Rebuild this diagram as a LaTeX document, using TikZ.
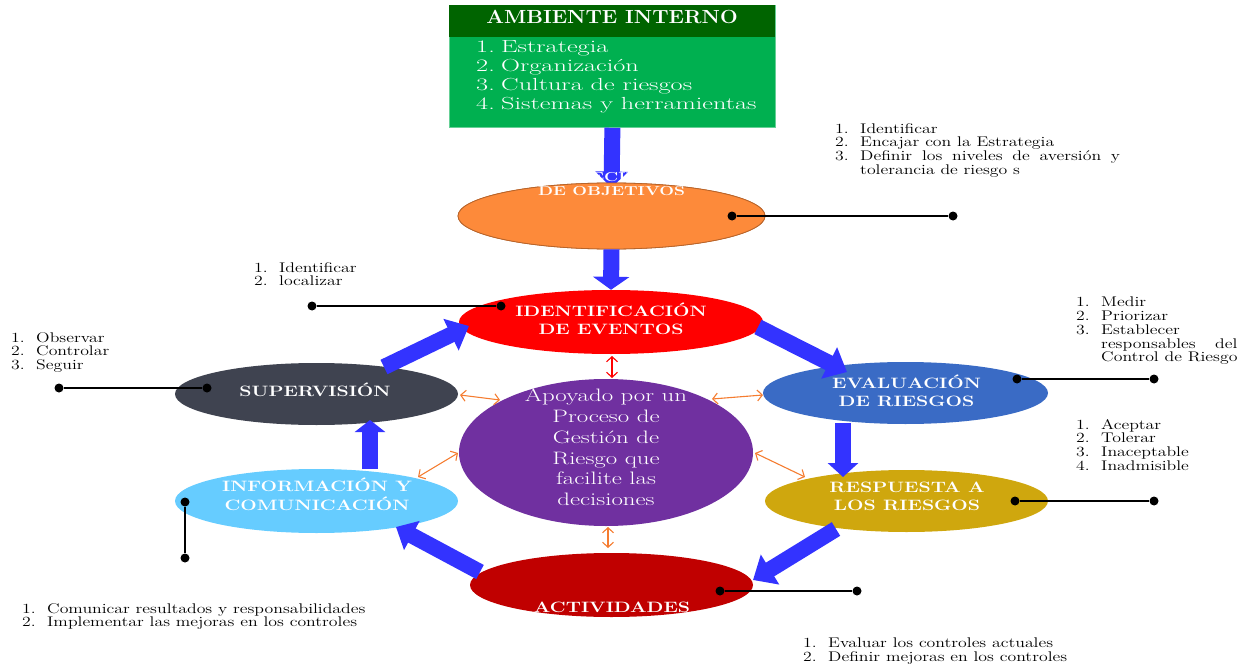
\documentclass[tikz,border=0pt]{standalone}
\usepackage{graphicx}
\usepackage{calc}
\usetikzlibrary{shapes.geometric,arrows.meta,calc}
\definecolor{hdrgreen}{HTML}{006400}
\definecolor{boxgreen}{HTML}{00B050}
\definecolor{arrowblue}{HTML}{3333FF}
\definecolor{objorange}{HTML}{FD8A3A}
\definecolor{objedge}{HTML}{B8642A}
\definecolor{identred}{HTML}{FF0000}
\definecolor{evalblue}{HTML}{3A6BC5}
\definecolor{respgold}{HTML}{CFA70E}
\definecolor{actred}{HTML}{C00000}
\definecolor{infoblue}{HTML}{66CCFF}
\definecolor{supgray}{HTML}{3F4350}
\definecolor{cpurple}{HTML}{7030A0}
\definecolor{linkorange}{HTML}{F57C30}
\newcommand{\lst}[1]{\scalebox{1.27}[1]{\fontsize{14}{13.5}\selectfont\begin{tabular}{@{}l@{}}#1\end{tabular}}}
\newcommand{\itm}[1]{\makebox[19.7pt][l]{#1}}
\newcommand{\etxt}[1]{\scalebox{1.3}[1]{\fontsize{15}{18}\selectfont\bfseries\begin{tabular}{@{}c@{}}#1\end{tabular}}}
\begin{document}
\begin{tikzpicture}[x=1pt,y=-1pt,
  ell/.style={ellipse, inner sep=0pt, draw=none},
  barrow/.style={draw=arrowblue, line width=16pt, -{Triangle[width=32pt,length=16pt]}},
  linkarrow/.style={draw=linkorange, line width=1.1pt, {Straight Barb[length=5pt,width=11pt]}-{Straight Barb[length=5pt,width=11pt]}},
  dot/.style={circle, fill=black, inner sep=0pt, minimum size=9pt},
  leader/.style={draw=black, line width=1.8pt},
  listtext/.style={anchor=north west, inner sep=0pt, text=black},
  wtext/.style={inner sep=0pt, text=white}]
\useasboundingbox (0,0) rectangle (1259,666);

% Ambiente interno box
\node[fill=boxgreen, draw=boxgreen!60!white, line width=0.8pt, minimum width=326pt, minimum height=122pt, inner sep=0pt, anchor=north west] (box) at (449,5) {};
\node[fill=hdrgreen, minimum width=326pt, minimum height=32pt, inner sep=0pt, anchor=north west] (hdr) at (449,5) {};
\node[wtext] (title) at (612,16.5) {\scalebox{1.1}[1]{\fontsize{19}{19}\selectfont\bfseries AMBIENTE INTERNO}};
\node[listtext, text=white] (boxlist) at (476,39.5) {\scalebox{1.5}[1]{\fontsize{17.5}{19}\selectfont\begin{tabular}{@{}l@{}}\makebox[16.7pt][l]{1.}Estrategia\\\makebox[16.7pt][l]{2.}Organización\\\makebox[16.7pt][l]{3.}Cultura de riesgos\\\makebox[16.7pt][l]{4.}Sistemas y herramientas\end{tabular}}};

% ellipses
\node[ell, fill=objorange, draw=objedge, line width=0.8pt, minimum width=307pt, minimum height=66pt] (obj) at (611.5,216) {};
\draw[barrow] (box.south) -- ($(obj.north)+(0,5)$);
\node[ell, fill=objorange, draw=objedge, line width=0.8pt, minimum width=307pt, minimum height=66pt] at (obj.center) {};
\node[ell, fill=identred, minimum width=304pt, minimum height=64pt] (ident) at (611,322) {};
\node[ell, fill=evalblue, minimum width=285pt, minimum height=62pt] (eval) at (905.5,393) {};
\node[ell, fill=respgold, minimum width=283pt, minimum height=62pt] (resp) at (906.5,501) {};
\node[ell, fill=actred, minimum width=283pt, minimum height=64pt] (act) at (611.5,585) {};
\node[ell, fill=infoblue, minimum width=283pt, minimum height=64pt] (info) at (316.5,501) {};
\node[ell, fill=supgray, minimum width=283pt, minimum height=62pt] (sup) at (316.5,394) {};
\node[ell, fill=cpurple, minimum width=294pt, minimum height=147pt] (core) at (606,452.5) {};

% blue cycle arrows
\draw[barrow, -{Triangle[width=36pt,length=13pt]}] (obj.south) -- (ident.north);
\draw[barrow, -{Triangle[width=34pt,length=20pt]}] ($(ident)+(147,5)$) -- ($(eval)+(-58.5,-21)$);
\draw[barrow, -{Triangle[width=30pt,length=14pt]}] ($(eval)+(-62.5,30)$) -- ($(resp)+(-63.5,-24)$);
\draw[barrow, -{Triangle[width=34pt,length=20pt]}] ($(resp)+(-70.5,28)$) -- ($(act)+(141.5,-5)$);
\draw[barrow, -{Triangle[width=32pt,length=18pt]}] ($(act)+(-131.5,-13)$) -- ($(info)+(79.5,26)$);
\draw[barrow, -{Triangle[width=30pt,length=12pt]}] ($(info)+(53.5,-32)$) -- ($(sup)+(53.5,26)$);
\draw[barrow, -{Triangle[width=34pt,length=20pt]}] ($(sup)+(67.5,-27)$) -- ($(ident)+(-142,4)$);

% links to the core
\draw[linkarrow, draw=identred] ($(ident)+(1,34)$) -- ($(core)+(6,-74.5)$);
\draw[linkarrow] ($(core)+(2,74.5)$) -- ($(act)+(-3.5,-37)$);
\draw[linkarrow] ($(sup)+(143.5,1)$) -- ($(core)+(-106,-52.5)$);
\draw[linkarrow] ($(core)+(106,-53.5)$) -- ($(eval)+(-142.5,2)$);
\draw[linkarrow] ($(info)+(101.5,-24)$) -- ($(core)+(-148,0.5)$);
\draw[linkarrow] ($(core)+(149,0.5)$) -- ($(resp)+(-101.5,-24)$);

% ellipse texts
\node[wtext] (objtxt) at (611.5,185.5) {\scalebox{1.34}[1]{\fontsize{13}{14}\selectfont\bfseries\begin{tabular}{@{}c@{}}ESTABLECIMIENTO\\DE OBJETIVOS\end{tabular}}};
\node[wtext] (identtxt) at (611,321) {\etxt{IDENTIFICACIÓN\\DE EVENTOS}};
\node[wtext] (evaltxt) at (906.5,393) {\etxt{EVALUACIÓN\\DE RIESGOS}};
\node[wtext] (resptxt) at (907,498) {\etxt{RESPUESTA A\\LOS RIESGOS}};
\node[wtext] (acttxt) at (612,608.5) {\etxt{ACTIVIDADES}};
\node[wtext] (infotxt) at (317,497) {\etxt{INFORMACIÓN Y\\COMUNICACIÓN}};
\node[wtext] (suptxt) at (315,392.5) {\etxt{SUPERVISIÓN}};
\node[wtext] (coretxt) at (606,449.5) {\scalebox{1.38}[1]{\fontsize{18}{20.8}\selectfont\begin{tabular}{@{}c@{}}Apoyado por un\\Proceso de\\Gestión de\\Riesgo que\\facilite las\\decisiones\end{tabular}}};

% leader lines
\node[dot] (o1) at (732,216) {}; \node[dot] (o2) at (953,216) {};
\draw[leader] (o1) -- (o2);
\node[dot] (i1) at (312,306) {}; \node[dot] (i2) at (501,306) {};
\draw[leader] (i1) -- (i2);
\node[dot] (s1) at (59,388) {}; \node[dot] (s2) at (207,388) {};
\draw[leader] (s1) -- (s2);
\node[dot] (e1) at (1017,379) {}; \node[dot] (e2) at (1154,379) {};
\draw[leader] (e1) -- (e2);
\node[dot] (r1) at (1015,501) {}; \node[dot] (r2) at (1154,501) {};
\draw[leader] (r1) -- (r2);
\node[dot] (a1) at (720,591) {}; \node[dot] (a2) at (857,591) {};
\draw[leader] (a1) -- (a2);
\node[dot] (n1) at (185,502) {}; \node[dot] (n2) at (185,558) {};
\draw[leader] (n1) -- (n2);

% lists
\node[listtext] (objlist) at (835,123) {\lst{\itm{1.}Identificar\\\itm{2.}Encajar con la Estrategia\\\itm{3.}\makebox[204.7pt][s]{Definir los niveles de aversión y}\\\itm{}tolerancia de riesgo s}};
\node[listtext] (identlist) at (254,262) {\lst{\itm{1.}Identificar\\\itm{2.}localizar}};
\node[listtext] (suplist) at (11,332) {\lst{\itm{1.}Observar\\\itm{2.}Controlar\\\itm{3.}Seguir}};
\node[listtext] (evallist) at (1076,297) {\lst{\itm{1.}Medir\\\itm{2.}Priorizar\\\itm{3.}Establecer\\\itm{}\makebox[\widthof{Control de Riesgo}][s]{responsables del}\\\itm{}Control de Riesgo}};
\node[listtext] (resplist) at (1076,419) {\lst{\itm{1.}Aceptar\\\itm{2.}Tolerar\\\itm{3.}Inaceptable\\\itm{4.}Inadmisible}};
\node[listtext] (infolist) at (22,603) {\lst{\itm{1.}Comunicar resultados y responsabilidades\\\itm{2.}Implementar las mejoras en los controles}};
\node[listtext] (actlist) at (803,638) {\lst{\itm{1.}Evaluar los controles actuales\\\itm{2.}Definir mejoras en los controles}};
\end{tikzpicture}
\end{document}
